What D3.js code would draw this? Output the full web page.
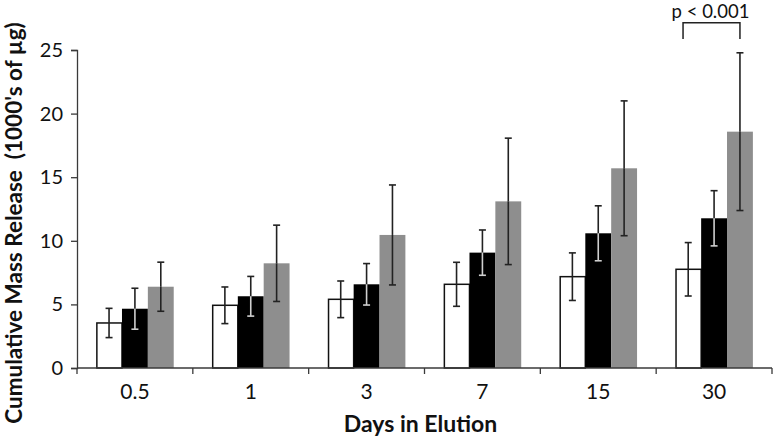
<!DOCTYPE html>
<html><head><meta charset="utf-8">
<script src="https://cdn.jsdelivr.net/npm/d3@7"></script>
<style>body{margin:0;background:#fff}svg{display:block}text{font-family:Lato,"Open Sans",sans-serif;fill:#111}</style>
</head><body><svg id="c" width="774" height="440"></svg>
<script>
const categories = ["0.5","1","3","7","15","30"];
const seriesNames = ["A","B","C"];
const whiteVals = [3.54, 4.93, 5.40, 6.58, 7.18, 7.76];
const blackVals = [4.66, 5.64, 6.58, 9.07, 10.59, 11.77];
const grayVals  = [6.39, 8.23, 10.46, 13.10, 15.70, 18.58];
const whiteErr = [1.15, 1.44, 1.44, 1.73, 1.87, 2.10];
const blackErr = [1.61, 1.56, 1.63, 1.78, 2.16, 2.17];
const grayErr  = [1.93, 3.00, 3.93, 4.97, 5.30, 6.20];
const yTicks = [0, 5, 10, 15, 20, 25];
const annotationText = "p < 0.001";
const xTitle = "Days in Elution";
const yTitle = "Cumulative Mass Release  (1000's of µg)";

const values = [whiteVals, blackVals, grayVals];
const errs = [whiteErr, blackErr, grayErr];
const fills = ["#ffffff", "#000000", "#8e8e8e"];

const svg = d3.select("#c");
const L = 77, R = 772, T = 50, B = 368;
const x = d3.scaleBand().domain(categories).range([L, R]).paddingInner(0.33).paddingOuter(0.165);
const xs = d3.scaleBand().domain(seriesNames).range([0, x.bandwidth()]);
const y = d3.scaleLinear().domain([0, 25]).range([B, T]);
const axisColor = "#3a3a3a";

// y axis
const ya = svg.append("g").attr("transform", `translate(${L},0)`)
  .call(d3.axisLeft(y).tickValues(yTicks).tickSize(6).tickPadding(8));
ya.select(".domain").attr("stroke", axisColor).attr("stroke-width", 1.3);
ya.selectAll(".tick line").attr("stroke", axisColor).attr("stroke-width", 1.3);
ya.selectAll(".tick text").style("font-size", "20px").style("font-family", "Lato, sans-serif").attr("fill", "#111");

// bars
const groups = svg.append("g");
values.forEach((vals, si) => {
  groups.selectAll(null).data(categories).enter().append("rect")
    .attr("x", c => x(c) + xs(seriesNames[si]) + (si === 0 ? 0.75 : 0))
    .attr("width", xs.bandwidth() - (si === 0 ? 0.75 : 0))
    .attr("y", (c, i) => y(vals[i]))
    .attr("height", (c, i) => B - y(vals[i]))
    .attr("fill", fills[si])
    .attr("stroke", si === 0 ? "#111" : "none")
    .attr("stroke-width", si === 0 ? 1.5 : 0);
});

// x axis (drawn after bars so baseline overlays)
const bounds = categories.map(c => x(c) - x.step() * 0.165).concat([R]);
svg.append("line").attr("x1", L).attr("x2", R).attr("y1", B).attr("y2", B)
  .attr("stroke", axisColor).attr("stroke-width", 1.3);
svg.selectAll(null).data(bounds).enter().append("line")
  .attr("x1", d => d).attr("x2", d => d).attr("y1", B).attr("y2", B + 6)
  .attr("stroke", axisColor).attr("stroke-width", 1.3);
svg.selectAll(null).data(categories).enter().append("text")
  .attr("x", c => x(c) + x.bandwidth() / 2).attr("y", 399)
  .attr("text-anchor", "middle").style("font-size", "21px").text(c => c);

// error bars
values.forEach((vals, si) => {
  categories.forEach((c, i) => {
    const cx = x(c) + xs(seriesNames[si]) + xs.bandwidth() / 2;
    const v = vals[i], e = errs[si][i];
    const lowColor = si === 1 ? "#cfcfcf" : "#222";
    const g = svg.append("g").attr("stroke-width", 1.6);
    g.append("line").attr("x1", cx).attr("x2", cx).attr("y1", y(v + e)).attr("y2", y(v)).attr("stroke", "#222");
    g.append("line").attr("x1", cx - 3.5).attr("x2", cx + 3.5).attr("y1", y(v + e)).attr("y2", y(v + e)).attr("stroke", "#222");
    g.append("line").attr("x1", cx).attr("x2", cx).attr("y1", y(v)).attr("y2", y(v - e)).attr("stroke", lowColor);
    g.append("line").attr("x1", cx - 3.5).attr("x2", cx + 3.5).attr("y1", y(v - e)).attr("y2", y(v - e)).attr("stroke", lowColor);
  });
});

// significance bracket on last group
const lastC = categories[categories.length - 1];
const bx1 = x(lastC) + xs.bandwidth() * 0.3;
const bx2 = x(lastC) + xs(seriesNames[2]) + xs.bandwidth() / 2;
const byTop = 22.7, byBot = 39;
svg.append("path")
  .attr("d", `M${bx1},${byBot}V${byTop}H${bx2}V${byBot}`)
  .attr("fill", "none").attr("stroke", "#222").attr("stroke-width", 1.5);
svg.append("text").attr("x", (bx1 + bx2) / 2 - 1).attr("y", 17.5)
  .attr("text-anchor", "middle").style("font-size", "18.5px").text(annotationText);

// titles
svg.append("text").attr("x", (L + R) / 2 - 4).attr("y", 432)
  .attr("text-anchor", "middle").style("font-size", "23px").style("font-weight", "bold").text(xTitle);
svg.append("text").attr("transform", "translate(22,223) rotate(-90)")
  .attr("text-anchor", "middle").style("white-space", "pre").attr("xml:space", "preserve")
  .style("font-size", "22.5px").style("font-weight", "bold").text(yTitle);
</script></body></html>
